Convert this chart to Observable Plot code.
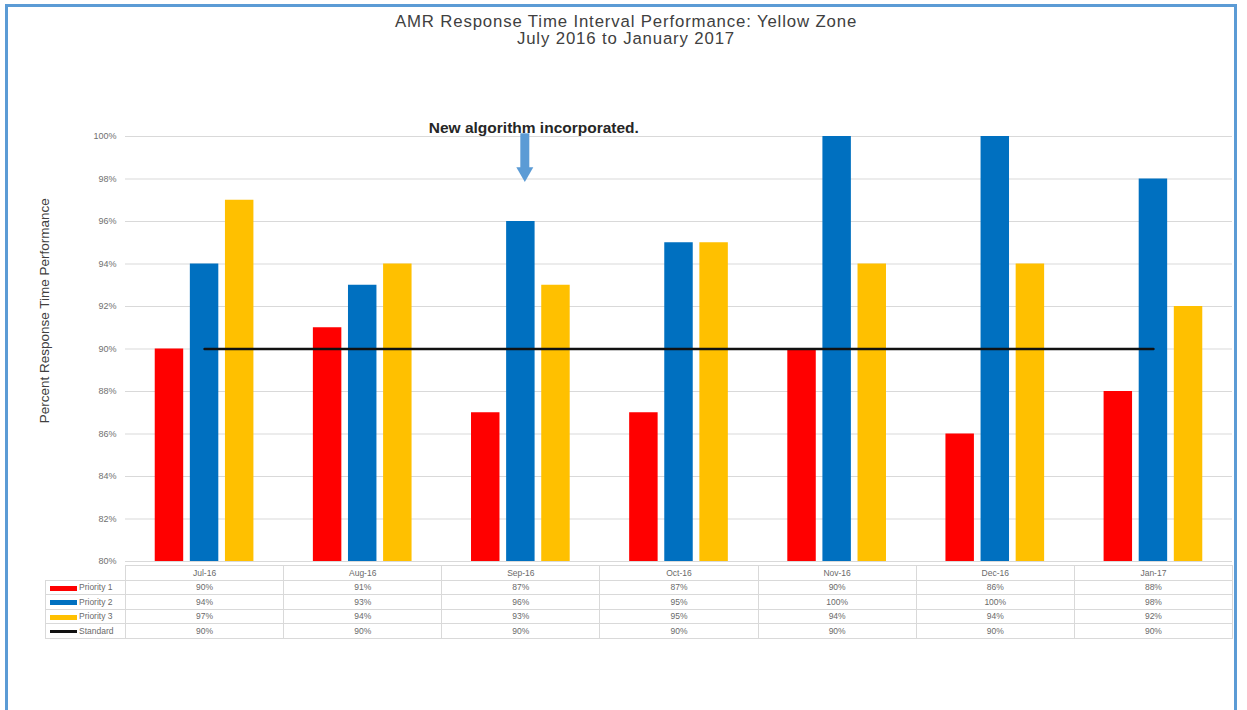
<!DOCTYPE html>
<html>
<head>
<meta charset="utf-8">
<script src="https://cdn.jsdelivr.net/npm/d3@7"></script>
<script src="https://cdn.jsdelivr.net/npm/@observablehq/plot@0.6"></script>
<style>
  html, body { margin: 0; padding: 0; background: #fff; }
  #page { position: relative; width: 1247px; height: 710px; overflow: hidden; font-family: "Liberation Sans", Arial, sans-serif; }
  #frame { position: absolute; left: 5px; top: 4px; width: 1226px; height: 720px; border: 3px solid #5b9bd5; }
  .title { position: absolute; left: 0; width: 1252px; text-align: center; color: #404040; font-size: 16.8px; letter-spacing: 0.85px; line-height: 18px; }
  #chart { position: absolute; left: 0; top: 0; }
  #tbl { position: absolute; left: 45px; top: 565px; border-collapse: collapse; table-layout: fixed; font-size: 8.5px; color: #6a6a6a; }
  #tbl td { border: 1px solid #d9d9d9; height: 13.5px; padding: 0; text-align: center; white-space: nowrap; }
  #tbl td.leg { text-align: left; padding-left: 4px; }
  #tbl td.blank { border: none; }
  .sw { display: inline-block; width: 27px; vertical-align: middle; margin-right: 2px; }
</style>
</head>
<body>
<div id="page">
  <div id="frame"></div>
  <div class="title" style="top:13px">AMR Response Time Interval Performance: Yellow Zone</div>
  <div class="title" style="top:30px">July 2016 to January 2017</div>
  <div id="chart"></div>
  <table id="tbl"></table>
</div>
<script>
const months = ["Jul-16", "Aug-16", "Sep-16", "Oct-16", "Nov-16", "Dec-16", "Jan-17"];
const priority1 = [90, 91, 87, 87, 90, 86, 88];
const priority2 = [94, 93, 96, 95, 100, 100, 98];
const priority3 = [97, 94, 93, 95, 94, 94, 92];
const standard = [90, 90, 90, 90, 90, 90, 90];
const seriesNames = ["Priority 1", "Priority 2", "Priority 3"];
const seriesColors = ["#ff0000", "#0070c0", "#ffc000"];
const standardName = "Standard";
const standardColor = "#111111";
const yTicks = [80, 82, 84, 86, 88, 90, 92, 94, 96, 98, 100];
const yLabel = "Percent Response Time Performance";
const annotationText = "New algorithm incorporated.";
const annotationMonth = "Sep-16";

const series = [priority1, priority2, priority3];
const barOffset = 0.222, barWidth = 0.18;
const bars = [];
series.forEach((vals, s) => vals.forEach((v, i) => bars.push({
  i, month: months[i], series: seriesNames[s], value: v,
  x1: i + (s - 1) * barOffset - barWidth / 2,
  x2: i + (s - 1) * barOffset + barWidth / 2
})));
const stdData = standard.map((v, i) => ({ i, value: v }));
const ai = months.indexOf(annotationMonth);

const chart = Plot.plot({
  width: 1247,
  height: 570,
  marginTop: 136,
  marginBottom: 9,
  marginLeft: 125,
  marginRight: 15,
  style: { fontFamily: "Liberation Sans, Arial, sans-serif", background: "transparent" },
  x: { type: "linear", domain: [-0.5, months.length - 0.5], axis: null },
  y: { domain: [80, 100], ticks: yTicks },
  color: { domain: seriesNames, range: seriesColors },
  marks: [
    Plot.gridY(yTicks, { stroke: "#d9d9d9", strokeOpacity: 1, strokeWidth: 1 }),
    Plot.axisY(yTicks, {
      tickSize: 0, tickPadding: 9, fontSize: 9, fill: "#707070",
      tickFormat: d => d + "%", label: null
    }),
    Plot.text([yLabel], { frameAnchor: "left", textAnchor: "middle", y: 91.8, dx: -81, rotate: -90, text: d => d, fontSize: 13.5, fill: "#404040" }),
    Plot.rectY(bars, { x1: "x1", x2: "x2", y1: 80, y2: "value", fill: "series" }),
    Plot.lineY(stdData, { x: "i", y: "value", stroke: standardColor, strokeWidth: 2.5 }),
    Plot.link([{ x: ai + 0.025 }], { x1: "x", x2: "x", y1: 100.15, y2: 98.4, stroke: "#5b9bd5", strokeWidth: 9 }),
    Plot.dot([{ x: ai + 0.025 }], { x: "x", y: 98.32, symbol: "triangle", rotate: 180, r: 6.3, fill: "#5b9bd5", stroke: "none" }),
    Plot.text([annotationText], { x: ai + 0.082, y: 100.38, text: d => d, fontSize: 15.5, fontWeight: "bold", fill: "#262626" })
  ]
});
document.getElementById("chart").appendChild(chart);

// data table below the chart
const tbl = d3.select("#tbl");
const colW = (1232 - 125) / months.length;
const cg = tbl.append("colgroup");
cg.append("col").style("width", "80px");
months.forEach(() => cg.append("col").style("width", colW + "px"));
tbl.style("width", (80 + colW * months.length) + "px");
const head = tbl.append("tr");
head.append("td").attr("class", "blank");
months.forEach(m => head.append("td").text(m));
const rows = [
  ...series.map((vals, s) => ({ name: seriesNames[s], color: seriesColors[s], vals, h: 5 })),
  { name: standardName, color: standardColor, vals: standard, h: 2.5 }
];
rows.forEach(r => {
  const tr = tbl.append("tr");
  const lg = tr.append("td").attr("class", "leg");
  lg.append("span").attr("class", "sw").style("height", r.h + "px").style("background", r.color);
  lg.append("span").text(r.name);
  r.vals.forEach(v => tr.append("td").text(v + "%"));
});
</script>
</body>
</html>
